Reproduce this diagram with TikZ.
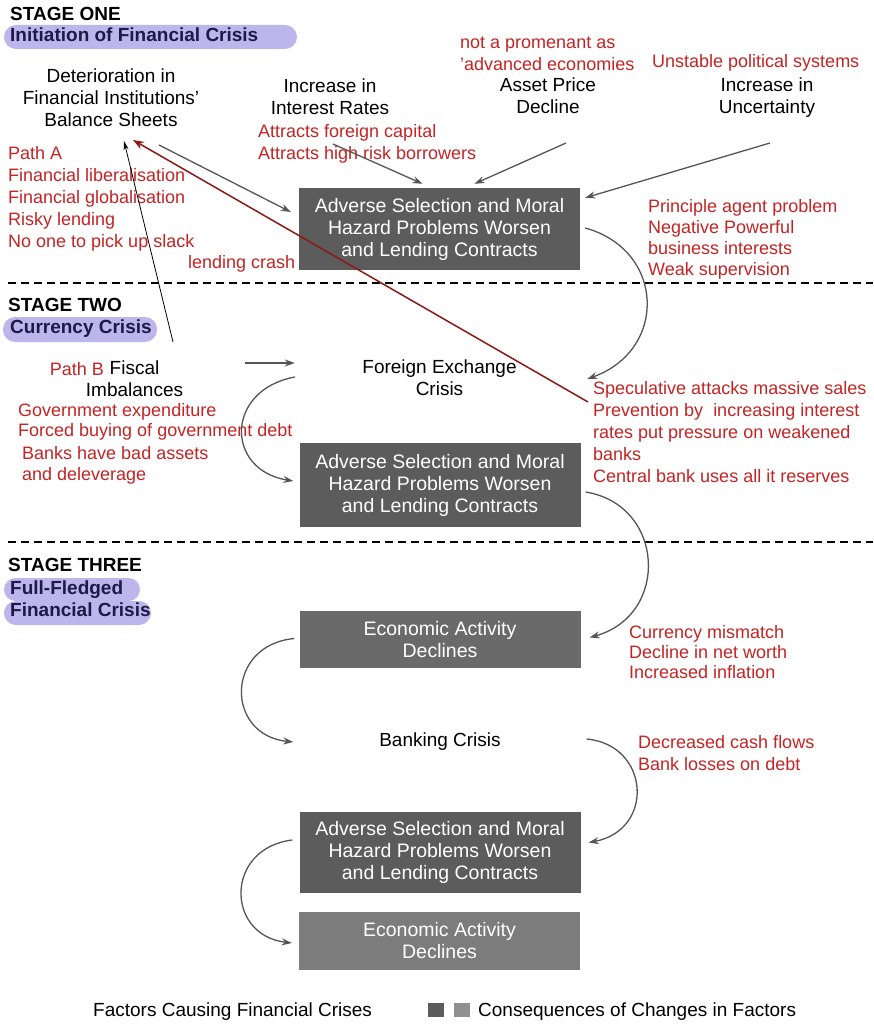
\documentclass[tikz,border=0pt]{standalone}
\usepackage{fontspec}
\setmainfont{Liberation Sans}
\usetikzlibrary{arrows.meta,calc}
\definecolor{redtxt}{RGB}{196,36,36}
\definecolor{darkred}{RGB}{140,24,24}
\definecolor{lav}{RGB}{189,182,236}
\definecolor{navy}{RGB}{30,26,72}
\definecolor{boxA}{RGB}{92,92,92}
\definecolor{boxB}{RGB}{106,106,106}
\definecolor{boxC}{RGB}{124,124,124}
\definecolor{arr}{RGB}{85,85,85}
\begin{document}
\begin{tikzpicture}[x=1pt,y=-1pt,
  every node/.style={inner sep=0pt},
  blk/.style={font=\fontsize{19}{22}\selectfont, text=black, align=center},
  rtxt/.style={font=\fontsize{18}{22}\selectfont, text=redtxt, align=left, anchor=west},
  stg/.style={font=\bfseries\fontsize{19}{22}\selectfont, anchor=base west},
  pilltxt/.style={font=\bfseries\fontsize{19}{22}\selectfont, text=navy, anchor=base west},
  pillbg/.style={fill=lav, rounded corners=12pt},
  cbox/.style={fill=boxA, text=white, font=\fontsize{19.5}{22}\selectfont, align=center, minimum width=281pt},
  ghost/.style={blk, minimum width=281pt},
  garrow/.style={draw=arr, line width=1.3pt, -{Stealth[length=10pt,width=7pt]}},
  dline/.style={draw=black, line width=1.6pt, dash pattern=on 8pt off 5pt}
]
\useasboundingbox (0,0) rectangle (873,1024);
\fill[white] (0,0) rectangle (873,1024);

% ---------- Stage one ----------
\node[stg] (s1) at (10,21) {STAGE ONE};
\fill[pillbg] (4,25) rectangle (297,49);
\node[pilltxt] (p1) at (10,42) {Initiation of Financial Crisis};

\node[blk] (det) at (111,98) {Deterioration in\\Financial Institutions'\\Balance Sheets};
\node[blk] (intr) at (330,97) {Increase in\\Interest Rates};
\node[rtxt] (r1) at (258,144) {Attracts foreign capital\\Attracts high risk borrowers};
\node[rtxt] (r2) at (460,54) {not a promenant as\\'advanced economies};
\node[blk] (asset) at (548,96) {Asset Price\\Decline};
\node[rtxt, anchor=base west] (r3) at (652,68) {Unstable political systems};
\node[blk] (unc) at (767,98) {Increase in\\Uncertainty};
\node[rtxt] (r4) at (8,199) {Path A\\Financial liberalisation\\Financial globalisation\\Risky lending\\No one to pick up slack};
\node[rtxt, anchor=base west] (r5) at (188,268) {lending crash};
\node[cbox, minimum height=82pt] (box1) at (439.5,229) {Adverse Selection and Moral\\Hazard Problems Worsen\\and Lending Contracts};
\node[rtxt, font=\fontsize{18}{21}\selectfont] (r6) at (648,239) {Principle agent problem\\Negative Powerful\\business interests\\Weak supervision};

\draw[dline] (8,283) -- (873,283);

% ---------- Stage two ----------
\node[stg] (s2) at (8,311) {STAGE TWO};
\fill[pillbg] (3,317) rectangle (157,342);
\node[pilltxt] (p2) at (10,333) {Currency Crisis};

\node[blk] (fiscal) at (134.5,379) {Fiscal\\Imbalances};
\node[rtxt, anchor=base east] (pb) at (104,375) {Path B};
\node[rtxt, font=\fontsize{18}{20}\selectfont] (r7) at (18,422) {Government expenditure\\Forced buying of government debt};
\node[rtxt, font=\fontsize{18}{21}\selectfont] (r8) at (22,465) {Banks have bad assets\\and deleverage};
\node[ghost] (fx) at (439.5,378) {Foreign Exchange\\Crisis};
\node[rtxt] (r9) at (593,432) {Speculative attacks massive sales\\Prevention by\ \ increasing interest\\rates put pressure on weakened\\banks\\Central bank uses all it reserves};
\node[cbox, minimum height=84pt] (box2) at (440,485) {Adverse Selection and Moral\\Hazard Problems Worsen\\and Lending Contracts};

\draw[dline] (8,542) -- (873,542);

% ---------- Stage three ----------
\node[stg] (s3) at (8,571) {STAGE THREE};
\fill[pillbg, rounded corners=11.5pt] (4,578) rectangle (140,601);
\fill[pillbg] (4,601) rectangle (151,625);
\node[pilltxt] (p3) at (10,594) {Full-Fledged};
\node[pilltxt] (p4) at (10,616) {Financial Crisis};

\node[cbox, fill=boxB, minimum height=57pt] (box3) at (440,639.5) {Economic Activity\\Declines};
\node[rtxt, font=\fontsize{18}{20}\selectfont] (r10) at (629,652) {Currency mismatch\\Decline in net worth\\Increased inflation};
\node[ghost] (bank) at (440,742) {Banking Crisis};
\node[rtxt, font=\fontsize{18}{22}\selectfont] (r11) at (638,753) {Decreased cash flows\\Bank losses on debt};
\node[cbox, minimum height=81pt] (box4) at (440,852.5) {Adverse Selection and Moral\\Hazard Problems Worsen\\and Lending Contracts};
\node[cbox, fill=boxC, minimum height=58pt] (box5) at (439.5,941) {Economic Activity\\Declines};

% ---------- Legend ----------
\node[font=\fontsize{19}{22}\selectfont, anchor=base west] (lg1) at (93,1016) {Factors Causing Financial Crises};
\node[fill=boxA, minimum width=16pt, minimum height=14pt] (sq1) at (436,1010) {};
\node[fill=boxC!85!white, minimum width=16pt, minimum height=14pt] (sq2) at (462,1010) {};
\node[font=\fontsize{19}{22}\selectfont, anchor=base west] (lg2) at (478,1016) {Consequences of Changes in Factors};

% ---------- Connectors ----------
\draw[garrow] ($(det.center)+(48,47)$) -- ($(box1.west)+(-8,-17)$);
\draw[garrow] ($(intr.center)+(3,47)$) -- ($(box1.north)+(-17,-4)$);
\draw[garrow] ($(asset.center)+(18,47)$) -- ($(box1.north)+(35,-4)$);
\draw[garrow] ($(unc.center)+(3,45)$) -- ($(box1.north east)+(5,10)$);
\draw[garrow] ($(box1.east)+(5,-1)$) .. controls (665,250) and (668,350) .. ($(fx.east)+(7,1)$);
\draw[draw=black, line width=0.8pt, -{Stealth[length=9pt,width=5pt]}] ($(fiscal.center)+(38.5,-37)$) -- ($(det.center)+(13,43)$);
\draw[draw=darkred, line width=1.5pt, -{Stealth[length=11pt,width=8pt]}] ($(r9.west)+(-5,-30)$) -- ($(det.center)+(22,42)$);
\draw[garrow] ($(fiscal.center)+(110.5,-16)$) -- ($(fx.west)+(-4,-15)$);
\draw[garrow] ($(fx.west)+(-4,-1)$) .. controls (225,390) and (225,470) .. ($(box2.west)+(-6,-4)$);
\draw[garrow] ($(box2.east)+(5,7)$) .. controls (665,505) and (670,615) .. ($(box3.east)+(9,-2)$);
\draw[garrow] ($(box3.west)+(-5,-1)$) .. controls (225,645) and (225,735) .. ($(bank.west)+(-6,0)$);
\draw[garrow] ($(bank.east)+(6,-3)$) .. controls (650,745) and (655,830) .. ($(box4.east)+(8,-10)$);
\draw[garrow] ($(box4.west)+(-7,-12.5)$) .. controls (225,848) and (225,935) .. ($(box5.west)+(-7,2)$);
\end{tikzpicture}
\end{document}
